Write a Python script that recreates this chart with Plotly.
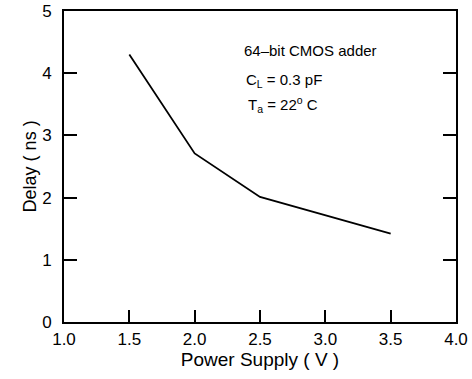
import plotly.graph_objects as go

supply_v = [1.5, 2.0, 2.5, 3.5]
delay_ns = [4.3, 2.71, 2.01, 1.42]

x_ticks = [1.0, 1.5, 2.0, 2.5, 3.0, 3.5, 4.0]
x_tick_labels = ["1.0", "1.5", "2.0", "2.5", "3.0", "3.5", "4.0"]
y_ticks = [0, 1, 2, 3, 4, 5]
y_tick_labels = ["0", "1", "2", "3", "4", "5"]

notes = ["64\u2013bit CMOS adder", "C<sub>L</sub> = 0.3 pF", "T<sub>a</sub> = 22<sup>o</sup> C"]
note_x = [2.36, 2.38, 2.39]
note_y = [4.37, 3.89, 3.49]

FONT = "Liberation Sans, Arial, Helvetica, sans-serif"

fig = go.Figure()
fig.add_trace(go.Scatter(x=supply_v, y=delay_ns, mode="lines",
                         line=dict(color="black", width=1.8), showlegend=False))

for t, xx, yy in zip(notes, note_x, note_y):
    fig.add_annotation(x=xx, y=yy, xref="x", yref="y", text=t, showarrow=False,
                       xanchor="left", yanchor="middle",
                       font=dict(family=FONT, size=15, color="black"))

# y-axis title placed as a rotated annotation to match the reference position
fig.add_annotation(x=-0.087, y=0.5, xref="paper", yref="paper", text="Delay ( ns )",
                   showarrow=False, textangle=-90, xanchor="center", yanchor="middle",
                   font=dict(family=FONT, size=18, color="black"))

fig.update_layout(
    width=472, height=379,
    margin=dict(l=64, r=16, t=11, b=57, autoexpand=False),
    paper_bgcolor="white", plot_bgcolor="white",
    font=dict(family=FONT, color="black"),
)
fig.update_xaxes(
    range=[1.0, 4.0], tickvals=x_ticks, ticktext=x_tick_labels,
    ticks="inside", ticklen=12, tickwidth=1.5, tickcolor="black",
    showline=True, linecolor="black", linewidth=2, mirror=True,
    showgrid=False, zeroline=False, automargin=False,
    ticklabelstandoff=1,
    tickfont=dict(size=17, family=FONT, color="black"),
    title=dict(text="Power Supply ( V )", font=dict(size=19, family=FONT, color="black"), standoff=2),
)
fig.update_yaxes(
    range=[0, 5], tickvals=y_ticks, ticktext=y_tick_labels,
    ticks="inside", ticklen=13, tickwidth=1.5, tickcolor="black",
    showline=True, linecolor="black", linewidth=2, mirror="ticks",
    showgrid=False, zeroline=False, automargin=False,
    ticklabelstandoff=7,
    tickfont=dict(size=17, family=FONT, color="black"),
)

fig.write_html("out.html", config={"displayModeBar": False},
               post_script="document.body.style.margin='0';document.body.style.overflow='hidden';")
